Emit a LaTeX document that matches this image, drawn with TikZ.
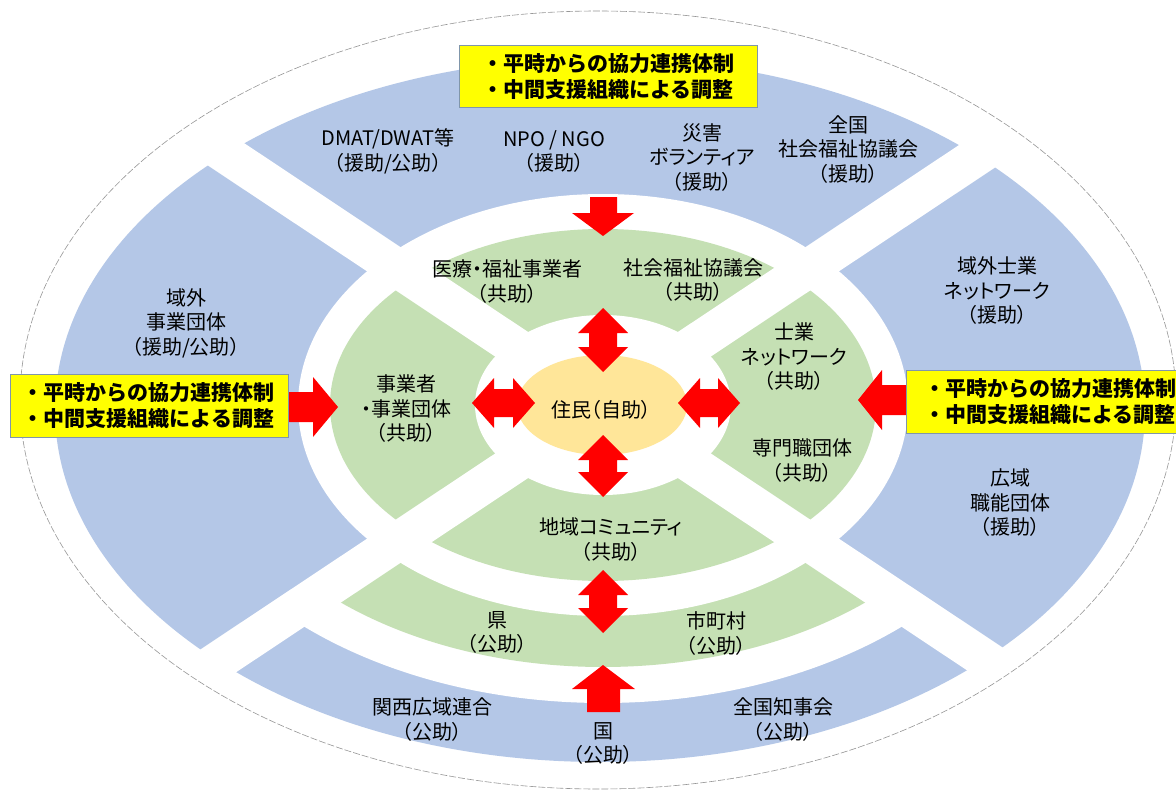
\documentclass[tikz,border=0pt]{standalone}
\usepackage{fontspec}
\setmainfont{Noto Sans CJK JP}[RawFeature=+palt]
\newfontfamily\boxfont{Noto Sans CJK JP}
\definecolor{ringblue}{RGB}{180,199,231}
\definecolor{ringgreen}{RGB}{197,224,180}
\definecolor{coreorange}{RGB}{255,230,153}
\definecolor{boxedge}{RGB}{128,150,170}
\definecolor{rimgray}{RGB}{150,150,150}
\definecolor{arrred}{RGB}{255,0,0}
\definecolor{boxyellow}{RGB}{255,255,0}
% vertical double arrow: x, top tip y, bottom tip y
\newcommand\arrVdouble[3]{%
  \fill[arrred] (#1,#2) -- ({#1+25},{#2+25}) -- ({#1+14},{#2+25}) -- ({#1+14},{#3-25})
    -- ({#1+25},{#3-25}) -- (#1,#3) -- ({#1-25},{#3-25}) -- ({#1-14},{#3-25})
    -- ({#1-14},{#2+25}) -- ({#1-25},{#2+25}) -- cycle;}
% horizontal double arrow: y, left tip x, right tip x
\newcommand\arrHdouble[3]{%
  \fill[arrred] (#2,#1) -- ({#2+22},{#1-25}) -- ({#2+22},{#1-14}) -- ({#3-22},{#1-14})
    -- ({#3-22},{#1-25}) -- (#3,#1) -- ({#3-22},{#1+25}) -- ({#3-22},{#1+14})
    -- ({#2+22},{#1+14}) -- ({#2+22},{#1+25}) -- cycle;}
\begin{document}
\begin{tikzpicture}[x=1pt,y=-1pt,
  lbl/.style={align=center, inner sep=0pt, font=\fontsize{20}{24.5}\selectfont},
  ybox/.style={draw=boxedge, line width=1pt, fill=boxyellow, align=left, inner sep=0pt,
    font=\boxfont\bfseries\fontsize{21}{25.5}\selectfont}]
\useasboundingbox (0,0) rectangle (1176,792);
\fill[white] (0,0) rectangle (1176,792);
% outer white ellipse
\fill[white] (598,400) ellipse [x radius=578pt, y radius=389pt];
% blue ring
\fill[ringblue] (600,410) ellipse [x radius=545pt, y radius=352pt];
% bottom quadrant: white gap and prefecture band
\begin{scope}
  \clip (603,405) -- (-97,870.5) -- (1303,870.5) -- cycle;
  \fill[white] (603,405) ellipse [x radius=447pt, y radius=298pt];
  \fill[ringgreen] (603,405) ellipse [x radius=399pt, y radius=262pt];
\end{scope}
\fill[white] (603,405) ellipse [x radius=305pt, y radius=211pt];
\fill[ringgreen] (603,405) ellipse [x radius=273pt, y radius=176pt];
\fill[white] (603,405) ellipse [x radius=128pt, y radius=90pt];
% diagonal white gaps
\draw[white, line width=38.7pt] (43,32.6) -- (1163,777.4);
\draw[white, line width=38.7pt] (43,777.4) -- (1163,32.6);
% outer rim
\draw[rimgray, line width=0.6pt, dash pattern=on 7pt off 2pt] (598,400) ellipse [x radius=578pt, y radius=389pt];
% centre
\fill[coreorange] (602,405) ellipse [x radius=85pt, y radius=50pt];
% arrows
\fill[arrred] (590,197) -- (617,197) -- (617,213) -- (634,213) -- (603,236) -- (572,213) -- (590,213) -- cycle;
\arrVdouble{603}{308}{372}
\arrVdouble{603}{435}{497}
\arrVdouble{603}{570}{633}
\arrHdouble{403}{472}{535}
\arrHdouble{403}{678}{740}
\fill[arrred] (587,712) -- (587,689) -- (572,689) -- (603,665) -- (635,689) -- (620,689) -- (620,712) -- cycle;
\fill[arrred] (280,392) -- (313,392) -- (313,377) -- (338,407) -- (313,437) -- (313,422) -- (280,422) -- cycle;
\fill[arrred] (915,385) -- (882,385) -- (882,370) -- (858,400) -- (882,430) -- (882,415) -- (915,415) -- cycle;
% yellow boxes
\node[ybox, minimum width=298pt, minimum height=61pt] (boxtop) at (608,76.5)
  {・平時からの協力連携体制\\・中間支援組織による調整};
\node[ybox, minimum width=278pt, minimum height=63pt] (boxleft) at (149,405.5)
  {・平時からの協力連携体制\\・中間支援組織による調整};
\node[ybox, minimum width=289pt, minimum height=63pt] (boxright) at (1050.5,401.5)
  {・平時からの協力連携体制\\・中間支援組織による調整};
% labels
\node[lbl] (dmat) at (388,151.5) {DMAT/DWAT等\\（援助/公助）};
\node[lbl] (npo) at (554,151.5) {NPO / NGO\\（援助）};
\node[lbl] (saigai) at (702,157.5) {災害\\ボランティア\\（援助）};
\node[lbl] (zenkoku) at (848,149.5) {全国\\社会福祉協議会\\（援助）};
\node[lbl] (ikigai) at (186,323) {域外\\事業団体\\（援助/公助）};
\node[lbl] (iryo) at (507,281.5) {医療・福祉事業者\\（共助）};
\node[lbl] (shakyo) at (693,280) {社会福祉協議会\\（共助）};
\node[lbl] (ikishi) at (997,291) {域外士業\\ネットワーク\\（援助）};
\node[lbl] (shigyo) at (794,357) {士業\\ネットワーク\\（共助）};
\node[lbl] (jigyo) at (406,409) {事業者\\・事業団体\\（共助）};
\node[lbl] (jumin) at (601,410) {住民（自助）};
\node[lbl] (senmon) at (802,460.5) {専門職団体\\（共助）};
\node[lbl] (koiki) at (1010,503) {広域\\職能団体\\（援助）};
\node[lbl] (chiiki) at (611,539.5) {地域コミュニティ\\（共助）};
\node[lbl] (ken) at (497,632.5) {県\\（公助）};
\node[lbl] (shi) at (716,633.5) {市町村\\（公助）};
\node[lbl] (kansai) at (432,719.5) {関西広域連合\\（公助）};
\node[lbl] (chiji) at (783,719.5) {全国知事会\\（公助）};
\node[lbl] (kuni) at (603,743.5) {国\\（公助）};
\end{tikzpicture}
\end{document}
